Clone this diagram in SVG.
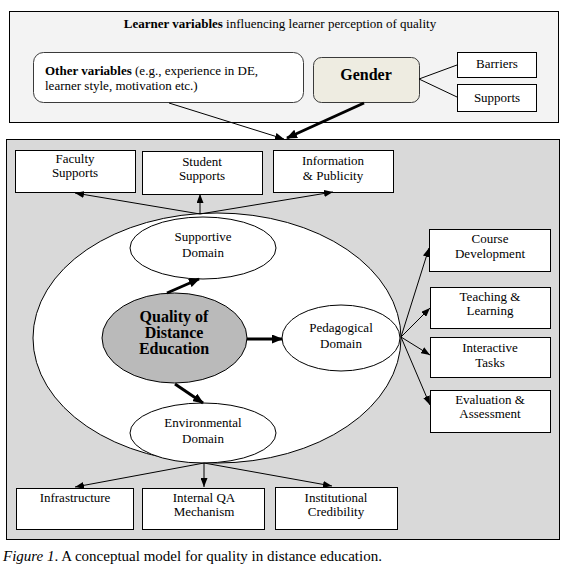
<svg xmlns="http://www.w3.org/2000/svg" width="569" height="568" viewBox="0 0 569 568">
<style>
text{font-family:"Liberation Serif","Times New Roman",serif;font-size:13px;fill:#000}
.c{text-anchor:middle}
.b{font-weight:bold}
.box{fill:#fff;stroke:#000;stroke-width:1}
.ell{fill:#fff;stroke:#000;stroke-width:1}
.rr{stroke:#3a3a3a;stroke-width:1}
.thin{fill:none;stroke:#000;stroke-width:1;marker-end:url(#ah)}
.thick{fill:none;stroke:#000;stroke-width:3;marker-end:url(#ahb)}
.line{fill:none;stroke:#000;stroke-width:1}
</style>
<defs>
<marker id="ah" markerUnits="userSpaceOnUse" markerWidth="9" markerHeight="7" refX="9" refY="3.5" orient="auto"><path d="M0,0 L9,3.5 L0,7 z" fill="#000"/></marker>
<marker id="ahb" markerUnits="userSpaceOnUse" markerWidth="11" markerHeight="9" refX="10" refY="4.5" orient="auto"><path d="M0,0 L11,4.5 L0,9 z" fill="#000"/></marker>
</defs>
<rect width="569" height="568" fill="#fff"/>

<g id="learner-panel">
<rect x="9.5" y="11.5" width="549" height="111" fill="#f3f3f3" stroke="#000"/>
<text class="c" x="280" y="28"><tspan class="b">Learner variables</tspan> influencing learner perception of quality</text>
</g>
<g id="other-variables">
<rect class="rr" x="33.5" y="52.5" width="270" height="50" rx="10" fill="#fff"/>
<text x="45" y="75"><tspan class="b">Other variables</tspan> (e.g.,  experience in DE,</text>
<text x="45" y="90">learner style, motivation etc.)</text>
</g>
<g id="gender">
<rect class="rr" x="313.5" y="57.5" width="106" height="45" rx="8" fill="#eeece1"/>
<text class="c b" x="366" y="80" style="font-size:16px">Gender</text>
</g>
<g id="barriers">
<rect class="box" x="457.5" y="52.5" width="79" height="25"/>
<text class="c" x="497" y="68">Barriers</text>
</g>
<g id="supports">
<rect class="box" x="457.5" y="84.5" width="79" height="27"/>
<text class="c" x="497" y="102">Supports</text>
</g>

<g id="quality-panel">
<rect x="6.5" y="139.5" width="553" height="400" fill="#d9d9d9" stroke="#000"/>
<ellipse class="ell" cx="217" cy="338" rx="184" ry="125"/>
</g>

<g id="supportive-domain">
<ellipse class="ell" cx="203" cy="248" rx="73" ry="31"/>
<text class="c" x="203" y="241">Supportive</text>
<text class="c" x="203" y="257">Domain</text>
</g>
<g id="quality">
<ellipse cx="174.5" cy="338" rx="72.5" ry="45" fill="#bababa" stroke="#000"/>
<text class="c b" x="174" y="322" style="font-size:16px">Quality of</text>
<text class="c b" x="174" y="338" style="font-size:16px">Distance</text>
<text class="c b" x="174" y="354" style="font-size:16px">Education</text>
</g>
<g id="pedagogical-domain">
<ellipse class="ell" cx="341" cy="338" rx="59" ry="33"/>
<text class="c" x="341" y="332">Pedagogical</text>
<text class="c" x="341" y="348">Domain</text>
</g>
<g id="environmental-domain">
<ellipse class="ell" cx="203" cy="433" rx="73" ry="30"/>
<text class="c" x="203" y="427">Environmental</text>
<text class="c" x="203" y="443">Domain</text>
</g>

<g id="faculty-supports">
<rect class="box" x="15.5" y="150.5" width="120" height="42"/>
<text class="c" x="75" y="163">Faculty</text>
<text class="c" x="75" y="177">Supports</text>
</g>
<g id="student-supports">
<rect class="box" x="142.5" y="151.5" width="120" height="43"/>
<text class="c" x="202" y="166">Student</text>
<text class="c" x="202" y="180">Supports</text>
</g>
<g id="information-publicity">
<rect class="box" x="273.5" y="150.5" width="120" height="42"/>
<text class="c" x="333" y="165">Information</text>
<text class="c" x="333" y="180">&amp; Publicity</text>
</g>

<g id="course-development">
<rect class="box" x="429.5" y="229.5" width="121" height="42"/>
<text class="c" x="490" y="243">Course</text>
<text class="c" x="490" y="258">Development</text>
</g>
<g id="teaching-learning">
<rect class="box" x="430.5" y="287.5" width="120" height="41"/>
<text class="c" x="490" y="301">Teaching &amp;</text>
<text class="c" x="490" y="315">Learning</text>
</g>
<g id="interactive-tasks">
<rect class="box" x="430.5" y="337.5" width="120" height="40"/>
<text class="c" x="490" y="352">Interactive</text>
<text class="c" x="490" y="367">Tasks</text>
</g>
<g id="evaluation-assessment">
<rect class="box" x="430.5" y="390.5" width="120" height="42"/>
<text class="c" x="490" y="404">Evaluation &amp;</text>
<text class="c" x="490" y="418">Assessment</text>
</g>

<g id="infrastructure">
<rect class="box" x="16.5" y="488.5" width="117" height="41"/>
<text class="c" x="75" y="502">Infrastructure</text>
</g>
<g id="internal-qa">
<rect class="box" x="142.5" y="488.5" width="122" height="41"/>
<text class="c" x="204" y="502">Internal QA</text>
<text class="c" x="204" y="516">Mechanism</text>
</g>
<g id="institutional-credibility">
<rect class="box" x="275.5" y="487.5" width="122" height="42"/>
<text class="c" x="336" y="502">Institutional</text>
<text class="c" x="336" y="516">Credibility</text>
</g>

<g id="connectors">
<line class="line" x1="419" y1="79" x2="457" y2="65"/>
<line class="line" x1="419" y1="79" x2="457" y2="97"/>
<line class="thin" x1="169" y1="103" x2="284" y2="139"/>
<line class="thick" x1="364" y1="103" x2="287" y2="138"/>
<line class="thin" x1="200" y1="214" x2="75" y2="193"/>
<line class="thin" x1="200" y1="214" x2="200" y2="194"/>
<line class="thin" x1="200" y1="214" x2="333" y2="192"/>
<line class="thick" x1="167" y1="293" x2="199" y2="279"/>
<line class="thick" x1="247" y1="339" x2="282" y2="339"/>
<line class="thick" x1="175" y1="384" x2="203" y2="403"/>
<line class="thin" x1="401" y1="337" x2="429" y2="248"/>
<line class="thin" x1="401" y1="337" x2="430" y2="308"/>
<line class="thin" x1="401" y1="337" x2="430" y2="355"/>
<line class="thin" x1="401" y1="337" x2="430" y2="405"/>
<line class="thin" x1="204" y1="463" x2="75" y2="487"/>
<line class="thin" x1="204" y1="463" x2="204" y2="487"/>
<line class="thin" x1="204" y1="463" x2="332" y2="486"/>
</g>

<text x="3" y="561" style="font-size:15px"><tspan font-style="italic">Figure 1</tspan>. A conceptual model for quality in distance education.</text>
</svg>
